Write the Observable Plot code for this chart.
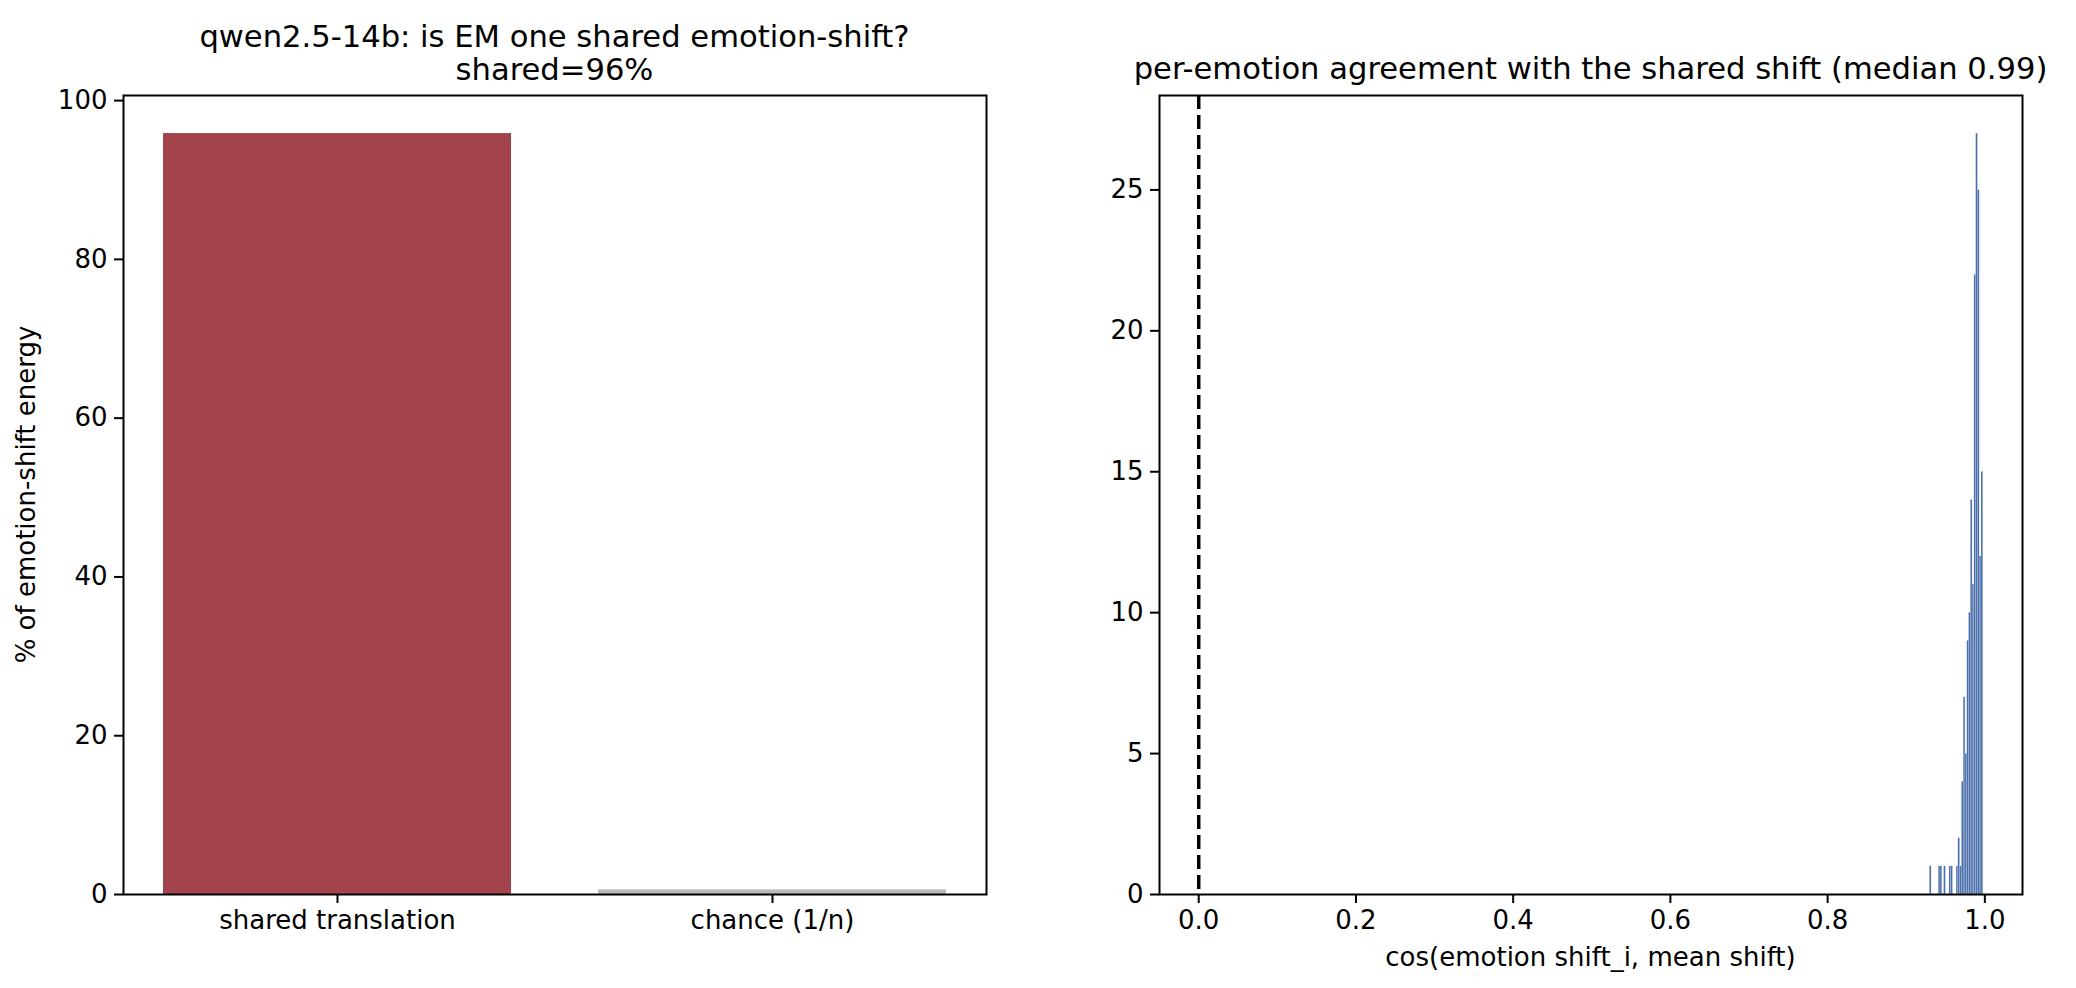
<!DOCTYPE html>
<html>
<head>
<meta charset="utf-8">
<script src="https://cdn.jsdelivr.net/npm/d3@7"></script>
<script src="https://cdn.jsdelivr.net/npm/@observablehq/plot@0.6"></script>
<style>
  html, body { margin: 0; padding: 0; background: #ffffff; }
  #fig { position: relative; width: 2076px; height: 988px; overflow: hidden; background: #ffffff; }
  #fig > .panel { position: absolute; top: 0; }
  #overlay { position: absolute; left: 0; top: 0; pointer-events: none; }
</style>
</head>
<body>
<div id="fig">
  <div class="panel" id="left" style="left:0px"></div>
  <div class="panel" id="right" style="left:1040px"></div>
</div>
<script>
// ---------------- data ----------------
const categories = ["shared translation", "chance (1/n)"];
const energyPct = [95.85, 0.585];
const barColors = ["#a3444c", "#bbbbbb"];

const binMin = 0.930;
const binMax = 0.998;
const binCounts = [1, 0, 0, 0, 0, 1, 1, 0, 1, 0, 0, 1, 1, 0, 0, 1, 2, 1, 4, 7, 5, 9, 10, 14, 11, 22, 27, 25, 12, 15];

const leftYTicks = [0, 20, 40, 60, 80, 100];
const rightYTicks = [0, 5, 10, 15, 20, 25];
const rightXTicks = [0, 0.2, 0.4, 0.6, 0.8, 1.0];
const refLineX = [0];

const leftTitle = ["qwen2.5-14b: is EM one shared emotion-shift?", "shared=96%"];
const rightTitle = "per-emotion agreement with the shared shift (median 0.99)";
const leftYLabel = "% of emotion-shift energy";
const rightXLabel = "cos(emotion shift_i, mean shift)";

// ---------------- derived tables ----------------
const barData = categories.map((c, i) => ({category: c, value: energyPct[i], color: barColors[i]}));
const binW = (binMax - binMin) / binCounts.length;
const bins = binCounts.map((n, i) => ({x1: binMin + i * binW, x2: binMin + (i + 1) * binW, count: n}))
  .filter(d => d.count > 0);

const FONT = "DejaVu Sans";
const TICK_FS = 26;
const common = {
  height: 988,
  marginTop: 95,
  marginBottom: 94,
  style: {background: "transparent", fontFamily: FONT, fontSize: TICK_FS + "px", color: "black", overflow: "visible"}
};
const axisOpts = {tickSize: 9, tickPadding: 7, fontSize: TICK_FS, label: null, strokeWidth: 2, stroke: "black", fill: "black"};

// ---------------- left panel ----------------
const leftYMax = d3.max(energyPct) * 1.05;
const left = Plot.plot({
  ...common,
  width: 1040,
  marginLeft: 123,
  marginRight: 54,
  x: {type: "band", domain: categories, paddingInner: 0.2, paddingOuter: 0.09, align: 0.5},
  y: {domain: [0, leftYMax]},
  color: {type: "identity"},
  marks: [
    Plot.barY(barData, {x: "category", y: "value", fill: "color"}),
    Plot.axisX({...axisOpts}),
    Plot.axisY({...axisOpts, ticks: leftYTicks, tickFormat: d3.format("d")}),
    Plot.frame({stroke: "black", strokeWidth: 2})
  ]
});
document.getElementById("left").appendChild(left);

// ---------------- right panel ----------------
const xLo = Math.min(0, binMin), xHi = binMax, xPad = (xHi - xLo) * 0.05;
const rightYMax = d3.max(binCounts) * 1.05;
const right = Plot.plot({
  ...common,
  width: 1036,
  marginLeft: 119,
  marginRight: 54,
  x: {domain: [xLo - xPad, xHi + xPad]},
  y: {domain: [0, rightYMax]},
  marks: [
    Plot.rectY(bins, {x1: "x1", x2: "x2", y: "count", fill: "#4a6fac", stroke: "#ffffff", strokeWidth: 0.3, strokeOpacity: 0.6}),
    Plot.ruleX(refLineX, {stroke: "black", strokeWidth: 3.5, strokeDasharray: "14,6"}),
    Plot.axisX({...axisOpts, ticks: rightXTicks, tickFormat: d3.format(".1f")}),
    Plot.axisY({...axisOpts, ticks: rightYTicks, tickFormat: d3.format("d")}),
    Plot.frame({stroke: "black", strokeWidth: 2})
  ]
});
document.getElementById("right").appendChild(right);

// ---------------- titles & axis labels ----------------
const ns = "http://www.w3.org/2000/svg";
const ov = document.createElementNS(ns, "svg");
ov.setAttribute("id", "overlay");
ov.setAttribute("width", 2076);
ov.setAttribute("height", 988);
function addText(str, x, y, size, opts = {}) {
  const t = document.createElementNS(ns, "text");
  t.setAttribute("x", x);
  t.setAttribute("y", y);
  t.setAttribute("font-family", FONT);
  t.setAttribute("font-size", size);
  t.setAttribute("text-anchor", "middle");
  t.setAttribute("fill", "black");
  if (opts.transform) t.setAttribute("transform", opts.transform);
  if (opts.dy) t.setAttribute("dy", opts.dy);
  t.textContent = str;
  ov.appendChild(t);
}
const TITLE_FS = 30.6;
const leftCx = (123 + 986) / 2;
const rightCx = 1040 + 119 + (1036 - 119 - 54) / 2;
addText(leftTitle[0], leftCx, 47, TITLE_FS);
addText(leftTitle[1], leftCx, 80, TITLE_FS);
addText(rightTitle, rightCx, 79, TITLE_FS);
addText(leftYLabel, 0, 0, TICK_FS, {transform: "translate(26,494.5) rotate(-90)", dy: "0.35em"});
addText(rightXLabel, rightCx, 966, TICK_FS);
document.getElementById("fig").appendChild(ov);
</script>
</body>
</html>
